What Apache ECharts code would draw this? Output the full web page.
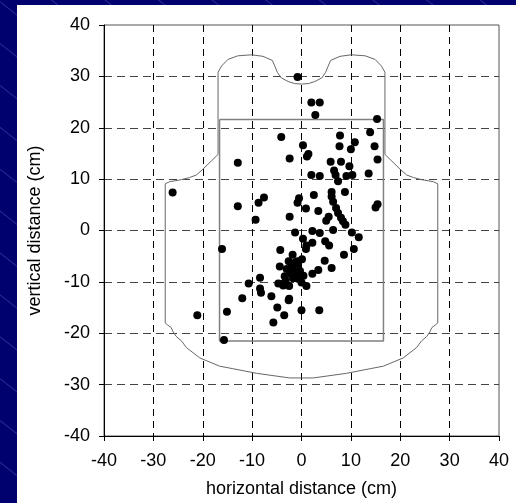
<!DOCTYPE html>
<html>
<head>
<meta charset="utf-8">
<script src="https://cdn.jsdelivr.net/npm/echarts@6/dist/echarts.min.js"></script>
<style>
  body { margin: 0; }
  .slide {
    position: relative; width: 516px; height: 503px; overflow: hidden;
    background: repeating-linear-gradient(38deg, #00006e 0px, #00006e 31px, #2a2a96 32px, #00006e 33px);
  }
  .paper { position: absolute; left: 17px; top: 5px; width: 499px; height: 498px; background: #fff; }
  #chart { position: absolute; left: 0; top: 0; width: 516px; height: 503px; }
</style>
</head>
<body>
<div class="slide">
  <div class="paper"></div>
  <div id="chart"></div>
</div>
<script>
  // impact points (cm)
  var hitX = [-0.8, 2.0, 3.7, 2.8, 15.3, -4.1, 7.8, 13.9, 0.3, 7.7, 10.8, 10.0, 14.8, 1.4, 1.1, -2.4,
    -12.9, 5.9, 8.0, 15.4, 9.7, 6.6, 2.0, 3.7, 6.9, 9.1, 10.3, 13.6, 7.4, -26.1, 2.5, 6.1,
    8.8, -7.6, -8.7, -0.5, -0.8, 6.1, 6.4, 15.0, 15.4, -12.9, 0.9, 3.4, 7.0, 7.4, -9.3, -2.4,
    5.5, 5.0, 8.0, 8.4, 8.9, -1.3, 2.2, 3.7, 6.4, 10.2, 11.6, 0.3, 2.2, 1.0, 0.9, 4.8,
    5.6, -16.1, -4.3, 10.6, -1.8, 8.6, -2.6, 0.1, 4.7, -4.4, -0.7, 6.1, 3.4, -3.0, -1.8, -1.4,
    -0.3, -2.3, 2.2, -3.4, -8.4, -1.7, -0.7, 0.0, 1.0, -10.7, -4.7, -3.7, -2.5, -8.4, -8.2, -12.0,
    -6.1, -2.5, -2.6, -4.9, 0.0, 3.6, -15.1, -3.5, -21.1, -5.7, -15.7, -1.2, -2.0, -1.0, 0.4, -3.9,
    -3.2, -0.8];
  var hitY = [29.9, 24.9, 24.9, 22.5, 21.7, 18.2, 18.5, 19.1, 16.6, 16.4, 17.2, 15.8, 16.4, 14.9, 14.4, 14.0,
    13.2, 13.4, 13.4, 13.8, 12.5, 11.7, 10.8, 10.6, 10.8, 10.6, 10.8, 11.1, 9.6, 7.4, 6.9, 7.5,
    7.5, 6.4, 5.4, 6.3, 5.4, 6.6, 5.6, 4.5, 5.1, 4.7, 4.3, 3.8, 4.4, 3.4, 2.1, 2.7,
    2.7, 1.9, 2.5, 1.8, 1.1, -0.4, -0.1, -0.5, 0.1, -0.4, -1.3, -1.6, -2.4, -2.9, -3.6, -2.1,
    -2.9, -3.6, -3.8, -3.6, -4.7, -4.7, -6.0, -5.6, -5.9, -7.0, -6.5, -7.3, -7.7, -7.5, -6.9, -7.9,
    -7.9, -8.4, -8.4, -8.9, -9.2, -9.3, -9.4, -10.1, -10.8, -10.3, -10.3, -10.7, -10.8, -11.3, -12.1, -13.2,
    -12.8, -13.3, -13.6, -15.0, -15.5, -15.5, -15.8, -16.5, -16.5, -17.9, -21.3, -6.2, -7.3, -8.4, -8.8, -10.4,
    -9.8, -6.0];

  // vest outline (cm)
  var vestX = [-16.9, -16.2, -14.9, -12.9, -10.1, -7.8, -5.9, -5.4, -4.9, -4.1, -2.7, -1.4, 0, 1.4, 2.7, 4.1,
    4.9, 5.4, 5.9, 7.8, 10.1, 12.9, 14.9, 16.2, 16.9, 16.9, 18.3, 20.0, 21.3, 22.7, 24.3, 26.7,
    27.6, 27.6, 27.1, 26.4, 26.0, 25.4, 24.3, 23.3, 20.6, 16.6, 13.9, 9.1, 2.4, 0, -2.4, -9.1,
    -13.9, -16.6, -20.6, -23.3, -24.3, -25.4, -26.0, -26.4, -27.1, -27.6, -27.6, -26.7, -24.3, -22.7, -21.3, -20.0,
    -18.3, -16.9, -16.9];
  var vestY = [30.8, 32.0, 33.3, 34.0, 34.2, 33.9, 33.1, 32.0, 30.8, 29.7, 29.0, 28.6, 28.5, 28.6, 29.0, 29.7,
    30.8, 32.0, 33.1, 33.9, 34.2, 34.0, 33.3, 32.0, 30.8, 14.8, 13.5, 11.9, 10.8, 10.3, 9.9, 9.5,
    9.1, -18.0, -18.4, -18.9, -19.7, -20.6, -21.5, -22.8, -24.8, -26.4, -26.9, -27.8, -28.7, -28.7, -28.7, -27.8,
    -26.9, -26.4, -24.8, -22.8, -21.5, -20.6, -19.7, -18.9, -18.4, -18.0, 9.1, 9.5, 9.9, 10.3, 10.8, 11.9,
    13.5, 14.8, 30.8];

  // armour plate (cm)
  var plateX = [-16.6, 16.6, 16.6, -16.6, -16.6];
  var plateY = [21.6, 21.6, -21.5, -21.5, 21.6];

  var font = '"Liberation Sans", Arial, sans-serif';
  function pairs(xs, ys) {
    return xs.map(function (x, i) { return [x, ys[i]]; });
  }
  var clear = 'rgba(0,0,0,0)';

  var chart = echarts.init(document.getElementById('chart'));
  chart.setOption({
    animation: false,
    grid: {
      left: 104, top: 25, width: 395, height: 411,
      show: true, borderColor: '#555', borderWidth: 1
    },
    xAxis: {
      type: 'value', min: -40, max: 40, interval: 10,
      name: 'horizontal distance (cm)', nameLocation: 'middle', nameGap: 44,
      nameTextStyle: { fontSize: 18, color: '#000', fontFamily: font },
      axisLine: { onZero: false, lineStyle: { color: '#000', width: 1 } },
      axisTick: { show: true, length: 5, lineStyle: { color: '#000' } },
      axisLabel: { fontSize: 18, color: '#000', fontFamily: font, margin: 16, showMinLabel: true, showMaxLabel: true },
      splitLine: {
        show: true,
        lineStyle: { color: [clear, '#000', '#000', '#000', '#000', '#000', '#000', '#000', clear], type: [7, 5], width: 1 }
      }
    },
    yAxis: {
      type: 'value', min: -40, max: 40, interval: 10,
      name: 'vertical distance (cm)', nameLocation: 'middle', nameGap: 60,
      nameTextStyle: { fontSize: 18, color: '#000', fontFamily: font },
      axisLine: { onZero: false, lineStyle: { color: '#000', width: 1 } },
      axisTick: { show: true, length: 5, lineStyle: { color: '#000' } },
      axisLabel: { fontSize: 18, color: '#000', fontFamily: font, margin: 14, showMinLabel: true, showMaxLabel: true },
      splitLine: {
        show: true,
        lineStyle: { color: [clear, '#444', '#444', '#444', '#444', '#444', '#444', '#444', clear], type: [8, 5], width: 1 }
      }
    },
    series: [
      {
        type: 'line', data: pairs(vestX, vestY), symbol: 'none', silent: true, z: 2,
        lineStyle: { color: '#666', width: 1 }
      },
      {
        type: 'line', data: pairs(plateX, plateY), symbol: 'none', silent: true, z: 2,
        lineStyle: { color: '#808080', width: 1.5 }
      },
      {
        type: 'scatter', data: pairs(hitX, hitY), symbol: 'circle', symbolSize: 8, z: 3,
        itemStyle: { color: '#000', opacity: 1 }
      }
    ]
  });
</script>
</body>
</html>
